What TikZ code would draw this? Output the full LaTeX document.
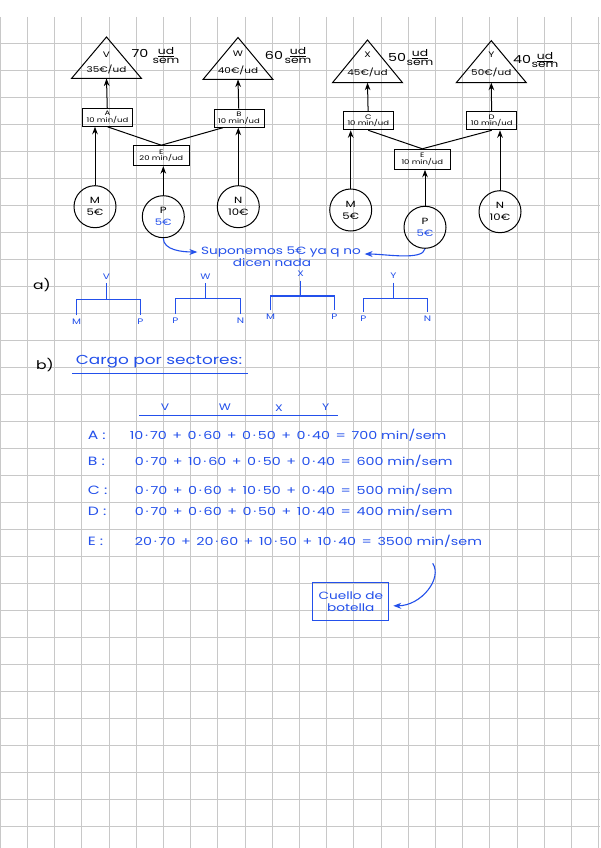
\documentclass[tikz,border=0pt]{standalone}
\usepackage{fontspec}
\setmainfont{Poppins}[FakeStretch=1.3]
\usetikzlibrary{calc,arrows.meta}
\definecolor{tinta}{RGB}{35,80,235}
\definecolor{cuadri}{RGB}{200,200,200}
\newcommand{\tam}[1]{\fontsize{#1}{#1}\selectfont}
\newcommand{\por}{\,·\,}
\newcommand{\mas}{\enspace+\enspace}
\newcommand{\igual}{\enspace=\enspace}

\begin{document}
\begin{tikzpicture}[x=1pt, y=-1pt, >=Stealth, line width=1pt,
    caja/.style={draw, minimum width=50, minimum height=18, inner sep=0pt, align=center, font=\tam{6.5}},
    circ/.style={draw, circle, minimum size=42, inner sep=0pt, align=center, font=\tam{9}},
    azul/.style={tinta, line width=1.1pt},
    letraazul/.style={tinta, font=\tam{8}}]
    \useasboundingbox (0,0) rectangle (600,848);
    \fill[white] (0,0) rectangle (600,848);
    % cuadricula
    \foreach \i in {0,...,22} \draw[cuadri, line width=0.6pt] (27.2*\i,17) -- (27.2*\i,848);
    \foreach \j in {0,...,29} \draw[cuadri, line width=0.6pt] (0,43.3+27*\j) -- (600,43.3+27*\j);
    % productos finales (triangulos) con precio y demanda
    \foreach \n/\cx/\ya/\yb/\yl/\yp/\dem/\pre/\dx/\dy/\fx/\fy in {V/106.5/37/78.5/55/69.5/70/35/140/53/166/55.5,
        W/238/37.5/79.5/54/70/60/40/274/55/298/55.5,
        X/367.5/40/82.7/55/72.7/50/45/397/57.5/420/57.5,
        Y/491.3/40.7/82.7/55/72.7/40/50/522/59.5/545/60}{
      \draw (\cx,\ya) -- (\cx+35,\yb) -- (\cx-35,\yb) -- cycle;
      \node[font=\tam{8}] (l\n) at (\cx,\yl) {\n};
      \node[font=\tam{8}] (p\n) at (\cx,\yp) {\pre€/ud};
      \coordinate (b\n) at (\cx,\yb);
      \node[font=\tam{11}] (d\n) at (\dx,\dy) {\dem};
      \node[font=\tam{9.5}, inner sep=0pt, align=center] (f\n) at (\fx,\fy) {\underline{ud}\\[-1pt]sem};
    }
    % sectores intermedios
    \node[caja] (A) at (107.5,117.3) {A\\10 min/ud};
    \node[caja] (B) at (239,118.2) {B\\10 min/ud};
    \node[caja, minimum width=56, minimum height=20] (E1) at (161.3,155.7) {E\\20 min/ud};
    \node[caja] (C) at (368.3,120.8) {C\\10 min/ud};
    \node[caja] (D) at (491.7,120.8) {D\\10 min/ud};
    \node[caja, minimum width=56, minimum height=20] (E2) at (422.3,159.3) {E\\10 min/ud};
    % materias primas
    \node[circ] (M1) at (95,206.7) {M\\[3pt]5€};
    \node[circ] (P1) at (163.3,216.7) {P\\[3pt]\textcolor{tinta}{5€}};
    \node[circ] (N1) at (238.3,206.7) {N\\[3pt]10€};
    \node[circ] (M2) at (350.7,210) {M\\[3pt]5€};
    \node[circ] (P2) at (425,227.3) {P\\[3pt]\textcolor{tinta}{5€}};
    \node[circ] (N2) at (500,211.7) {N\\[3pt]10€};
    % flechas del arbol
    \draw[->] (A) -- (bV);
    \draw[->] (B) -- (bW);
    \draw[->] (C) -- (bX);
    \draw[->] (D) -- (bY);
    \draw (E1.north) -- (A.south);
    \draw (E1.north) -- ($(B.south)+(-16,0)$);
    \draw (E2.north) -- (C.south);
    \draw (E2.north) -- (D.south);
    \draw[->] (M1.north) -- (M1.north |- A.south);
    \draw[->] (P1.north) -- (P1.north |- E1.south);
    \draw[->] (N1.north) -- (N1.north |- B.south);
    \draw[->] (M2.north) -- (M2.north |- C.south);
    \draw[->] (P2.north) -- (P2.north |- E2.south);
    \draw[->] (N2.north) -- (N2.north |- D.south);
    % nota en azul
    \node[tinta, font=\tam{10.5}] (sup1) at (281,252) {Suponemos 5€ ya q no};
    \node[tinta, font=\tam{10.5}] (sup2) at (272,263) {dicen nada};
    \draw[->, azul] (P1.south) .. controls +(0,12) and +(-15,0) .. (sup1.west);
    \draw[->, azul] (P2.south) .. controls +(-2,12) and +(20,0) .. ($(sup1.east)+(0,2)$);
    % apartado a)
    \node[font=\tam{12}] (ta) at (42,285) {a)};
    \foreach \n/\x/\yl/\yb/\hi/\xi/\hd/\xd/\yh in {V/106.5/276.7/299.3/M/76.5/P/140.5/322,
        W/205.5/276.7/298.3/P/175.5/N/240.5/320.5,
        X/300.5/274/296/M/270.5/P/334.5/317,
        Y/393.5/276/298.3/P/363.5/N/427.5/318.3}{
      \node[letraazul] (a\n) at (\x,\yl) {\n};
      \node[letraazul] (a\n-iz) at (\xi,\yh) {\hi};
      \node[letraazul] (a\n-de) at (\xd,\yh) {\hd};
      \coordinate (a\n-c) at (\x,\yb);
      \draw[azul] (a\n) -- (a\n-c);
      \draw[azul] (a\n-iz) |- (a\n-c) -| (a\n-de);
    }
    % apartado b)
    \node[font=\tam{12}] (tb) at (45,365) {b)};
    \node[tinta, font=\tam{13}, anchor=west] (cargo) at (72,362) {Cargo por sectores:};
    \draw[azul] ($(cargo.south west)+(0,1)$) -- ($(cargo.south east)+(2,1)$);
    \node[letraazul, font=\tam{9.5}] (hV) at (165,407.3) {V};
    \node[letraazul, font=\tam{9.5}] (hW) at (225,407.3) {W};
    \node[letraazul, font=\tam{9.5}] (hX) at (279,408.3) {X};
    \node[letraazul, font=\tam{9.5}] (hY) at (325.7,407.3) {Y};
    \draw[azul] (139.3,415.7) -- (337.7,415.7);
    \foreach \s/\y/\x/\ex in {A/435/126/10\por70\mas0\por60\mas0\por50\mas0\por40\igual700,
        B/461.7/131/0\por70\mas10\por60\mas0\por50\mas0\por40\igual600,
        C/490.7/131/0\por70\mas0\por60\mas10\por50\mas0\por40\igual500,
        D/511.7/131/0\por70\mas0\por60\mas0\por50\mas10\por40\igual400,
        E/541.7/131/20\por70\mas20\por60\mas10\por50\mas10\por40\igual3500}{
      \node[tinta, font=\tam{12}, anchor=west] (s\s) at (84,\y) {\s\ :};
      \node[tinta, font=\tam{11}, anchor=west] (fila\s) at (\x,\y) {\ex\ min/sem};
    }
    % cuello de botella
    \node[draw=tinta, text=tinta, minimum width=76, minimum height=38, inner sep=0pt, align=center, font=\tam{10.5}] (cuello) at (350.8,601.8) {Cuello de\\[1pt]botella};
    \coordinate (ini) at (432.7,563.3);
    \draw[->, azul] (ini) .. controls +(10,15) and +(28,0) .. ($(cuello.east)+(4,4)$);
\end{tikzpicture}
\end{document}
